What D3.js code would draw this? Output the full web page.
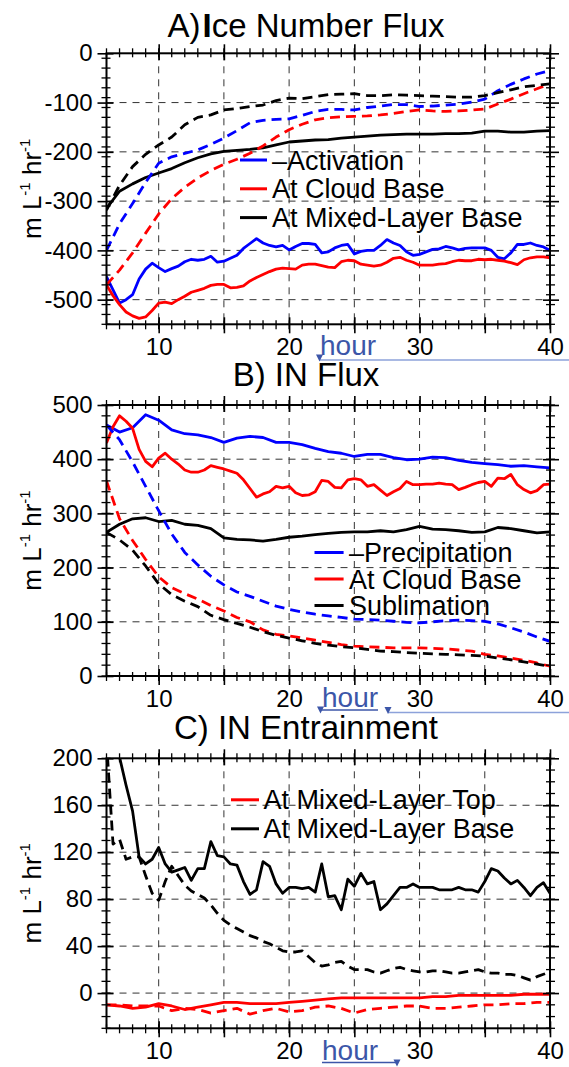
<!DOCTYPE html>
<html><head><meta charset="utf-8">
<script src="https://cdn.jsdelivr.net/npm/d3@7/dist/d3.min.js"></script>
<style>
html,body{margin:0;padding:0;background:#fff;}
svg{display:block;font-family:"Liberation Sans",Arial,Helvetica,sans-serif;}
</style></head>
<body><svg id="c" width="569" height="1067"></svg>
<script>
// ---------- DATA ----------
const hours = [6,7,8,9,10,11,12,13,14,15,16,17,18,19,20,21,22,23,24,25,26,27,28,29,30,31,32,33,34,35,36,37,38,39,40];
const hoursHalf = [6,6.5,7,7.5,8,8.5,9,9.5,10,10.5,11,11.5,12,12.5,13,13.5,14,14.5,15,15.5,16,16.5,17,17.5,18,18.5,19,19.5,20,20.5,21,21.5,22,22.5,23,23.5,24,24.5,25,25.5,26,26.5,27,27.5,28,28.5,29,29.5,30,30.5,31,31.5,32,32.5,33,33.5,34,34.5,35,35.5,36,36.5,37,37.5,38,38.5,39,39.5,40];

// Panel A: Ice Number Flux
const aActivationSolid = [-453,-480,-507,-500,-490,-458,-438,-426,-435,-443,-437,-432,-423,-418,-420,-418,-412,-424,-422,-416,-410,-396,-386,-376,-385,-390,-393,-390,-399,-392,-386,-386,-388,-405,-403,-395,-390,-388,-407,-402,-400,-400,-390,-378,-385,-390,-403,-410,-408,-403,-398,-397,-392,-395,-399,-396,-395,-395,-395,-400,-414,-417,-405,-388,-388,-385,-390,-393,-400];
const aCloudBaseSolid = [-470,-492,-510,-525,-533,-538,-535,-522,-507,-505,-508,-500,-493,-485,-481,-477,-471,-469,-469,-476,-475,-472,-462,-455,-449,-443,-438,-436,-437,-438,-430,-428,-428,-431,-434,-435,-423,-420,-421,-428,-430,-432,-430,-424,-416,-414,-420,-424,-430,-430,-430,-428,-427,-423,-420,-421,-421,-418,-419,-418,-420,-422,-425,-429,-419,-415,-413,-413,-415];
const aMixedBaseSolid = [-315,-280,-265,-252,-243,-234,-222,-212,-204,-199,-197,-195,-192,-186,-180,-178,-176,-175,-172,-170,-168,-166,-165,-164,-164,-164,-163,-163,-162,-158,-158,-160,-160,-158,-157];
const aActivationDash = [-400,-346,-305,-262,-223,-210,-203,-196,-185,-172,-157,-141,-136,-134,-133,-126,-118,-114,-114,-115,-110,-107,-104,-104,-108,-107,-105,-103,-99,-93,-76,-63,-52,-42,-35];
const aCloudBaseDash = [-470,-440,-405,-365,-326,-295,-272,-253,-238,-225,-215,-203,-188,-170,-155,-144,-135,-131,-129,-128,-127,-125,-122,-118,-115,-117,-118,-117,-115,-113,-103,-93,-82,-72,-62];
const aMixedBaseDash = [-318,-268,-230,-205,-186,-170,-145,-130,-125,-115,-112,-108,-105,-96,-91,-92,-88,-84,-83,-82,-86,-86,-84,-85,-86,-87,-88,-89,-89,-86,-80,-74,-68,-65,-62];

// Panel B: IN Flux
const bPrecipSolid = [463,450,458,482,472,454,447,445,440,431,439,442,440,431,431,427,420,414,411,405,409,409,403,399,400,404,403,398,394,392,390,387,388,386,384];
const bCloudBaseSolid = [430,460,480,470,457,418,396,386,402,411,400,391,380,376,376,380,388,385,382,378,374,362,346,330,336,340,350,347,350,338,333,334,340,361,359,348,347,362,364,362,350,353,343,333,340,346,359,353,353,354,354,356,354,353,344,348,353,357,359,350,365,364,372,353,344,338,342,353,354];
const bSublimSolid = [265,280,290,292,285,287,280,278,272,255,252,251,249,252,256,258,261,263,265,266,266,268,266,270,276,271,270,268,265,266,274,272,268,264,266];
const bPrecipDash = [463,436,395,350,305,262,228,205,184,168,155,147,138,129,123,118,114,111,108,105,104,103,101,99,98,100,102,103,102,101,96,89,81,72,64];
const bCloudBaseDash = [360,290,250,215,183,163,152,142,130,120,108,100,85,77,74,70,66,62,58,55,54,53,52,52,52,51,50,48,46,40,37,33,29,24,18];
const bSublimDash = [265,251,232,203,170,150,138,128,112,104,97,90,82,75,70,65,60,57,54,52,49,46,45,43,42,41,40,39,38,37,33,30,26,22,18];

// Panel C: IN Entrainment
const cMixedTopSolid = [-10,-11,-13,-12,-9,-11,-14,-12,-10,-8,-8,-9,-9,-9,-8,-7,-6,-5,-4,-4,-4,-4,-4,-4,-4,-3,-3,-2,-2,-2,-2,-2,-1,-1,-1];
const cMixedBaseSolid = [240,220,201,177,155,116,110,114,124,110,103,105,107,96,106,106,129,117,116,110,109,95,84,88,112,108,93,85,90,90,89,90,86,110,82,83,71,97,91,102,93,95,71,76,83,90,90,93,90,90,90,88,88,88,90,88,88,86,95,106,104,98,93,96,90,83,90,94,85];
const cMixedTopDash = [-10,-10,-11,-11,-11,-15,-13,-14,-17,-15,-13,-18,-15,-13,-16,-15,-12,-11,-13,-17,-14,-13,-12,-11,-11,-13,-13,-12,-11,-10,-10,-9,-9,-8,-8];
const cMixedBaseDash = [215,127,131,114,116,116,100,85,79,95,108,100,92,87,84,81,75,68,62,58,55,52,49,47,44,42,39,36,35,35,36,31,26,23,24,26,27,23,20,20,20,18,17,19,21,22,20,19,18,18,19,19,18,17,17,18,19,20,18,17,17,16,16,15,13,11,14,16,18];

// Tick labels
const xTickLabels = [10,20,30,40];
const xMajorHours = [10,15,20,25,30,35,40];
const xGridHours = [10,15,20,25,30,35];
const aYTicks = [0,-100,-200,-300,-400,-500];
const bYTicks = [0,100,200,300,400,500];
const cYTicks = [0,40,80,120,160,200];

// titles split into [prefix, emphasised letter, rest]
const titles = [["A)","I","ce Number Flux"],["B) IN Flux","",""],["C) IN Entrainment","",""]];
const legendA = ["\u2013Activation","At Cloud Base","At Mixed-Layer Base"];
const legendB = ["\u2013Precipitation","At Cloud Base","Sublimation"];
const legendC = ["At Mixed-Layer Top","At Mixed-Layer Base"];

// ---------- DRAW ----------
const svg = d3.select('#c');
const X0 = 106.5, X1 = 550;
const x = d3.scaleLinear().domain([6,40]).range([X0, X1]);
const BLUE = '#0000ff', RED = '#ff0000', BLACK = '#000000';
const HOURC = '#3c56a8';

function drawPanel(cfg, idx){
  const y = d3.scaleLinear().domain(cfg.yDomain).range([cfg.bottom, cfg.top]);
  const g = svg.append('g');
  const clipId = 'clip' + idx;
  svg.append('clipPath').attr('id', clipId).append('rect')
    .attr('x', X0).attr('y', cfg.top).attr('width', X1 - X0).attr('height', cfg.bottom - cfg.top);

  // grid
  const grid = g.append('g').attr('stroke', '#333').attr('stroke-width', 1).attr('stroke-dasharray', '7,6');
  grid.selectAll('line.v').data(xGridHours).join('line')
    .attr('x1', d => x(d)).attr('x2', d => x(d)).attr('y1', cfg.top).attr('y2', cfg.bottom);
  grid.selectAll('line.h').data(cfg.yTicks.filter(t => t !== cfg.yDomain[0] && t !== cfg.yDomain[1])).join('line')
    .attr('x1', X0).attr('x2', X1).attr('y1', d => y(d)).attr('y2', d => y(d));

  // series
  const sg = g.append('g').attr('clip-path', `url(#${clipId})`);
  cfg.series.forEach(s => {
    const pts = s.x.map((h, i) => [h, s.v[i]]);
    sg.append('path').datum(pts)
      .attr('fill', 'none').attr('stroke', s.color).attr('stroke-width', 2.8)
      .attr('stroke-linejoin', 'round')
      .attr('stroke-dasharray', s.dash ? '10,6' : null)
      .attr('d', d3.line().x(d => x(d[0])).y(d => y(d[1])));
  });

  // minor ticks
  const minor = d3.range(cfg.yDomain[0], cfg.yDomain[1] + 0.001, cfg.yMinor);
  const xMinor = d3.range(6, 40.001, 1);
  const mt = g.append('g').attr('stroke', '#000').attr('stroke-width', 1.3);
  mt.selectAll('line.yl').data(minor).join('line')
    .attr('x1', X0 - 5).attr('x2', X0 + 4).attr('y1', d => y(d)).attr('y2', d => y(d));
  mt.selectAll('line.yr').data(minor).join('line')
    .attr('x1', X1 - 4).attr('x2', X1 + 5).attr('y1', d => y(d)).attr('y2', d => y(d));
  mt.selectAll('line.xb').data(xMinor).join('line')
    .attr('x1', d => x(d)).attr('x2', d => x(d)).attr('y1', cfg.bottom - 4).attr('y2', cfg.bottom + 5);
  mt.selectAll('line.xt').data(xMinor).join('line')
    .attr('x1', d => x(d)).attr('x2', d => x(d)).attr('y1', cfg.top - 5).attr('y2', cfg.top + 4);

  // major axes
  const fmt = d => String(d);
  const ax = g.append('g');
  const left = ax.append('g').attr('transform', `translate(${X0},0)`)
    .call(d3.axisLeft(y).tickValues(cfg.yTicks).tickSize(9).tickPadding(5).tickFormat(fmt));
  const bottom = ax.append('g').attr('transform', `translate(0,${cfg.bottom})`)
    .call(d3.axisBottom(x).tickValues(xMajorHours).tickSize(9).tickPadding(5).tickFormat(fmt));
  const right = ax.append('g').attr('transform', `translate(${X1},0)`)
    .call(d3.axisRight(y).tickValues(cfg.yTicks).tickSize(9).tickFormat(''));
  const top = ax.append('g').attr('transform', `translate(0,${cfg.top})`)
    .call(d3.axisTop(x).tickValues(xMajorHours).tickSize(9).tickFormat(''));
  ax.selectAll('.domain').remove();
  ax.selectAll('.tick line').attr('stroke', '#000').attr('stroke-width', 1.6);
  bottom.selectAll('.tick text').filter(d => !xTickLabels.includes(d)).remove();
  right.selectAll('.tick text').remove();
  top.selectAll('.tick text').remove();
  ax.selectAll('.tick text').attr('fill', '#000')
    .attr('font-family', '"Liberation Sans",Arial,sans-serif').attr('font-size', 24);
  left.selectAll('.tick line').attr('x1', 7);
  right.selectAll('.tick line').attr('x1', -7);
  bottom.selectAll('.tick line').attr('y1', -7);
  top.selectAll('.tick line').attr('y1', 7);

  // frame
  g.append('rect').attr('x', X0).attr('y', cfg.top).attr('width', X1 - X0).attr('height', cfg.bottom - cfg.top)
    .attr('fill', 'none').attr('stroke', '#000').attr('stroke-width', 2);

  // title
  const tt = g.append('text').attr('x', 306).attr('y', cfg.titleY).attr('text-anchor', 'middle')
    .attr('font-size', 33).attr('fill', '#000');
  tt.append('tspan').text(cfg.title[0]);
  if (cfg.title[1]) tt.append('tspan').attr('font-weight', 'bold').attr('dx', 2).text(cfg.title[1]);
  if (cfg.title[2]) tt.append('tspan').text(cfg.title[2]);

  // y label
  const yl = g.append('text').attr('transform', `translate(41,${(cfg.top + cfg.bottom) / 2}) rotate(-90)`)
    .attr('text-anchor', 'middle').attr('font-size', 26).attr('fill', '#000');
  yl.append('tspan').text('m L');
  yl.append('tspan').attr('font-size', 15).attr('baseline-shift', '11').text('-1');
  yl.append('tspan').text(' hr');
  yl.append('tspan').attr('font-size', 15).attr('baseline-shift', '11').text('-1');

  // legend
  const lg = g.append('g').attr('font-size', 27);
  cfg.legend.labels.forEach((lab, i) => {
    const by = cfg.legend.y0 + i * cfg.legend.dy;
    lg.append('line').attr('x1', cfg.legend.x1).attr('x2', cfg.legend.x2)
      .attr('y1', by - 9.5).attr('y2', by - 9.5)
      .attr('stroke', cfg.legend.colors[i]).attr('stroke-width', 3);
    lg.append('text').attr('x', cfg.legend.tx).attr('y', by).attr('fill', '#000').text(lab);
  });

  // "hour" annotation
  const h = cfg.hour;
  const hg = g.append('g');
  hg.append('text').attr('x', h.tx).attr('y', h.ty).attr('font-size', 28).attr('fill', HOURC).text('hour');
  h.lines.forEach(l => {
    hg.append('line').attr('x1', l[0]).attr('x2', l[1]).attr('y1', l[2]).attr('y2', l[2])
      .attr('stroke', l[3]).attr('stroke-width', 1.4);
  });
  h.tris.forEach(t => {
    hg.append('path').attr('d', `M${t[0]-3.5},${t[1]}L${t[0]+3.5},${t[1]}L${t[0]},${t[1]+7}Z`).attr('fill', HOURC);
  });
}

const panels = [
  {
    top: 53.3, bottom: 324.3, yDomain: [-550, 0], yTicks: aYTicks, yMinor: 20, title: titles[0], titleY: 36.7,
    series: [
      {x: hoursHalf, v: aActivationSolid, color: BLUE},
      {x: hoursHalf, v: aCloudBaseSolid, color: RED},
      {x: hours, v: aMixedBaseSolid, color: BLACK},
      {x: hours, v: aActivationDash, color: BLUE, dash: true},
      {x: hours, v: aCloudBaseDash, color: RED, dash: true},
      {x: hours, v: aMixedBaseDash, color: BLACK, dash: true}
    ],
    legend: {labels: legendA, colors: [BLUE, RED, BLACK], x1: 240, x2: 267, tx: 272, y0: 169.5, dy: 28.8},
    hour: {tx: 320, ty: 355, lines: [[319, 569, 360, '#8da2da']], tris: [[319.5, 354.5]]}
  },
  {
    top: 405, bottom: 676, yDomain: [0, 500], yTicks: bYTicks, yMinor: 20, title: titles[1], titleY: 386,
    series: [
      {x: hours, v: bPrecipSolid, color: BLUE},
      {x: hoursHalf, v: bCloudBaseSolid, color: RED},
      {x: hours, v: bSublimSolid, color: BLACK},
      {x: hours, v: bPrecipDash, color: BLUE, dash: true},
      {x: hours, v: bCloudBaseDash, color: RED, dash: true},
      {x: hours, v: bSublimDash, color: BLACK, dash: true}
    ],
    legend: {labels: legendB, colors: [BLUE, RED, BLACK], x1: 314.5, x2: 343.6, tx: 349, y0: 562, dy: 26.5},
    hour: {tx: 322, ty: 706.5, lines: [[320, 378, 710, HOURC], [388, 569, 712.5, '#8da2da']], tris: [[320.5, 706.5], [388, 707]]}
  },
  {
    top: 758.3, bottom: 1028.3, yDomain: [-30, 200], yTicks: cYTicks, yMinor: 10, title: titles[2], titleY: 739.3,
    series: [
      {x: hours, v: cMixedTopSolid, color: RED},
      {x: hoursHalf, v: cMixedBaseSolid, color: BLACK},
      {x: hours, v: cMixedTopDash, color: RED, dash: true},
      {x: hoursHalf, v: cMixedBaseDash, color: BLACK, dash: true}
    ],
    legend: {labels: legendC, colors: [RED, BLACK], x1: 231, x2: 259, tx: 263.6, y0: 809.3, dy: 29},
    hour: {tx: 322, ty: 1060, lines: [[322, 396, 1062.5, HOURC]], tris: [[397, 1059.5]]}
  }
];
panels.forEach((p, i) => drawPanel(p, i));
</script>
</body></html>
